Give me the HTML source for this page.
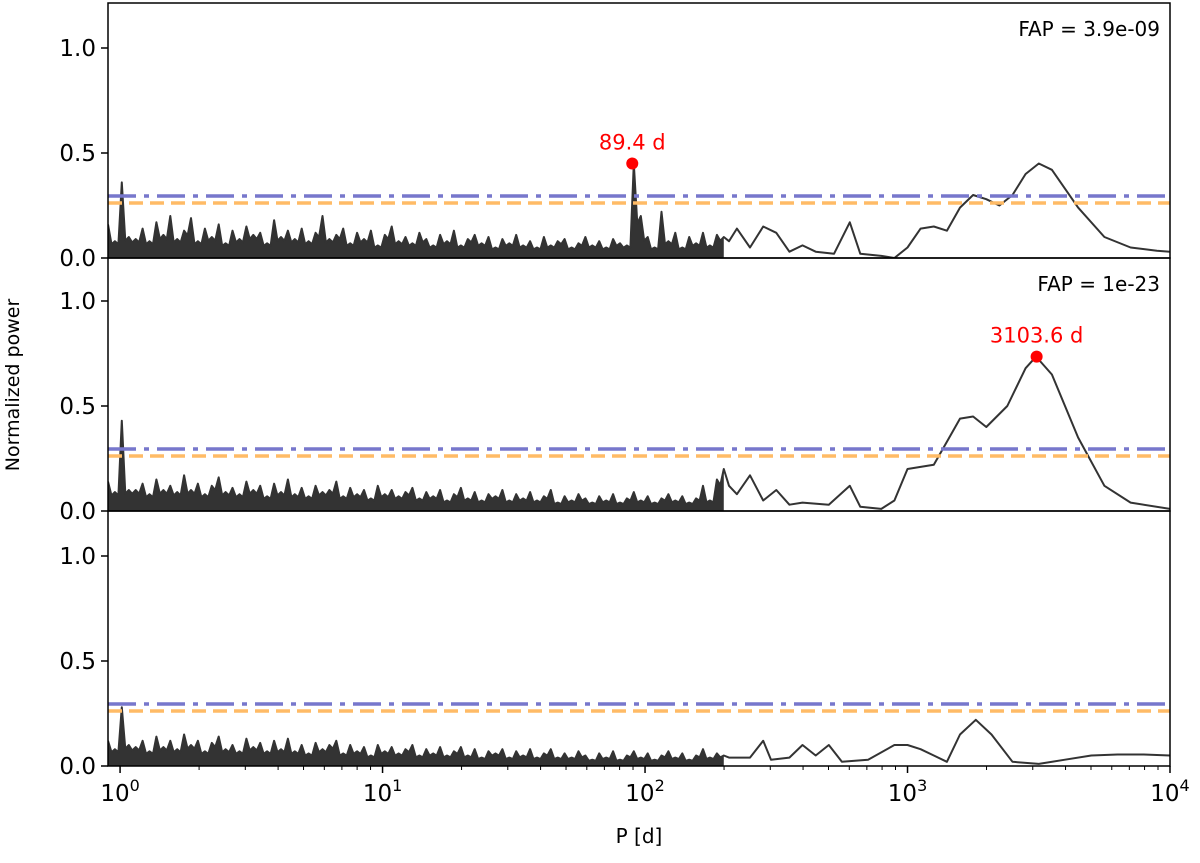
<!DOCTYPE html>
<html><head><meta charset="utf-8"><style>
body{margin:0;background:#fff}
svg text{font-family:"DejaVu Sans","Liberation Sans",sans-serif}
</style></head><body>
<svg id="chart" width="1200" height="858" xmlns="http://www.w3.org/2000/svg">
<g id="plot"></g>
<text x="19" y="385" font-size="19" text-anchor="middle" transform="rotate(-90 19 385)">Normalized power</text>
<text x="639" y="843" font-size="20" text-anchor="middle">P [d]</text>
</svg>
<script>
const xTickExps=[0,1,2,3,4];
const yTicks=[0.0,0.5,1.0];
const faLevels=[0.295,0.262];
const fapLabels=["FAP = 3.9e-09","FAP = 1e-23",""];
const peakPeriods=[89.4,3103.6,null];
const peakPowers=[0.45,0.735,null];
const peakLabels=["89.4 d","3103.6 d",""];
const noise1=[0.16,0.08,0.36,0.1,0.09,0.14,0.08,0.17,0.11,0.2,0.09,0.13,0.19,0.08,0.14,0.1,0.16,0.07,0.13,0.09,0.15,0.11,0.12,0.07,0.18,0.1,0.13,0.09,0.14,0.08,0.12,0.2,0.09,0.11,0.14,0.07,0.12,0.09,0.13,0.06,0.11,0.15,0.08,0.1,0.07,0.12,0.09,0.06,0.11,0.08,0.13,0.06,0.09,0.11,0.07,0.1,0.05,0.09,0.07,0.11,0.06,0.08,0.05,0.1,0.06,0.08,0.09,0.05,0.07,0.1,0.06,0.08,0.05,0.09,0.07,0.06,0.45,0.2,0.1,0.05,0.22,0.08,0.12,0.05,0.1,0.07,0.12,0.06,0.11,0.1];
const noise2=[0.14,0.09,0.43,0.1,0.1,0.13,0.08,0.15,0.1,0.12,0.09,0.17,0.1,0.13,0.08,0.12,0.16,0.09,0.11,0.08,0.14,0.1,0.12,0.07,0.13,0.09,0.15,0.08,0.11,0.07,0.12,0.09,0.1,0.14,0.07,0.11,0.08,0.1,0.06,0.12,0.08,0.1,0.07,0.09,0.11,0.06,0.09,0.07,0.1,0.05,0.08,0.11,0.06,0.09,0.05,0.08,0.07,0.1,0.05,0.08,0.06,0.09,0.05,0.07,0.1,0.04,0.07,0.05,0.08,0.06,0.04,0.07,0.05,0.08,0.04,0.06,0.09,0.05,0.07,0.04,0.06,0.08,0.05,0.07,0.04,0.06,0.12,0.05,0.15,0.2];
const noise3=[0.12,0.08,0.28,0.1,0.09,0.12,0.07,0.14,0.09,0.12,0.08,0.15,0.1,0.12,0.07,0.11,0.14,0.08,0.1,0.07,0.13,0.09,0.11,0.07,0.12,0.08,0.13,0.07,0.1,0.06,0.11,0.08,0.1,0.12,0.06,0.1,0.07,0.09,0.05,0.1,0.07,0.09,0.06,0.08,0.1,0.05,0.08,0.06,0.09,0.05,0.07,0.09,0.05,0.08,0.04,0.07,0.06,0.08,0.04,0.07,0.05,0.08,0.04,0.06,0.08,0.04,0.06,0.04,0.07,0.05,0.03,0.06,0.04,0.07,0.03,0.05,0.07,0.04,0.06,0.03,0.05,0.07,0.04,0.06,0.03,0.05,0.08,0.04,0.06,0.05];
const smoothLogP1=[2.32,2.35,2.4,2.45,2.5,2.55,2.6,2.65,2.72,2.78,2.82,2.9,2.95,3.0,3.05,3.1,3.15,3.2,3.25,3.3,3.35,3.4,3.45,3.5,3.55,3.6,3.65,3.75,3.85,3.95,4.0];
const smoothPow1=[0.08,0.14,0.05,0.15,0.12,0.03,0.06,0.03,0.02,0.17,0.02,0.01,0.0,0.05,0.14,0.15,0.13,0.24,0.3,0.28,0.25,0.3,0.4,0.45,0.42,0.33,0.24,0.1,0.05,0.035,0.03];
const smoothLogP2=[2.32,2.35,2.4,2.45,2.5,2.55,2.6,2.7,2.78,2.82,2.9,2.95,3.0,3.05,3.1,3.15,3.2,3.25,3.3,3.38,3.45,3.49,3.55,3.65,3.75,3.85,4.0];
const smoothPow2=[0.12,0.08,0.17,0.05,0.1,0.03,0.04,0.03,0.12,0.02,0.01,0.05,0.2,0.21,0.22,0.33,0.44,0.45,0.4,0.5,0.68,0.735,0.65,0.35,0.12,0.04,0.01];
const smoothLogP3=[2.32,2.4,2.45,2.48,2.55,2.6,2.65,2.7,2.75,2.85,2.95,3.0,3.05,3.1,3.15,3.2,3.26,3.32,3.4,3.5,3.6,3.7,3.8,3.9,4.0];
const smoothPow3=[0.04,0.04,0.12,0.03,0.04,0.1,0.05,0.1,0.02,0.03,0.1,0.1,0.08,0.05,0.02,0.15,0.22,0.15,0.02,0.01,0.03,0.05,0.055,0.055,0.05];

const noises=[noise1,noise2,noise3];
const smX=[smoothLogP1,smoothLogP2,smoothLogP3];
const smY=[smoothPow1,smoothPow2,smoothPow3];
const L=108,R=1170,lmin=-0.046,lmax=4,NEND=2.3;
const tops=[3,258,511],bots=[258,511,766],S=210;
const NS="http://www.w3.org/2000/svg";
const g=document.getElementById('plot');
function xs(lp){return L+(lp-lmin)/(lmax-lmin)*(R-L);}
function mk(t,a,p){const e=document.createElementNS(NS,t);for(const k in a)e.setAttribute(k,a[k]);(p||g).appendChild(e);return e;}
for(let i=0;i<3;i++){
  const T=tops[i],B=bots[i];
  const ys=v=>B-v*S;
  const pg=mk('g',{});
  
  
  const cp=mk('clipPath',{id:'c'+i},pg);mk('rect',{x:L,y:T,width:R-L,height:B-T},cp);
  const n=noises[i];let noisePts=[];
  const step=(NEND-lmin)/(n.length-1);
  for(let k=0;k<n.length;k++){const lp=lmin+k*step;noisePts.push([xs(lp),ys(n[k])]);
    if(k<n.length-1){noisePts.push([xs(lp+step/2),ys(Math.min(n[k],n[k+1])*0.82)]);}}
  let pts=noisePts.slice();
  for(let k=0;k<smX[i].length;k++)pts.push([xs(smX[i][k]),ys(smY[i][k])]);
  let d='M'+xs(lmin)+','+B+' '+noisePts.map(p=>'L'+p[0].toFixed(1)+','+p[1].toFixed(1)).join(' ')+' L'+xs(NEND)+','+B+'Z';
  const f=mk('path',{d:d,fill:'#333','clip-path':'url(#c'+i+')'},pg);
  
  
  const ln=mk('polyline',{points:pts.map(p=>p[0].toFixed(1)+','+p[1].toFixed(1)).join(' '),fill:'none',stroke:'#333','stroke-width':2,'stroke-linejoin':'round','clip-path':'url(#c'+i+')'},pg);
  
  
  const bl=mk('line',{x1:L,x2:R,y1:ys(faLevels[0]),y2:ys(faLevels[0]),stroke:'#7777cc','stroke-width':3.5,'stroke-dasharray':'28,8,5,8'},pg);
  
  
  const ol=mk('line',{x1:L,x2:R,y1:ys(faLevels[1]),y2:ys(faLevels[1]),stroke:'#ffbb66','stroke-width':3.5,'stroke-dasharray':'14,7'},pg);
  
  
  if(peakPeriods[i]){
    const px=xs(Math.log10(peakPeriods[i])),py=ys(peakPowers[i]);
    const c=mk('circle',{cx:px,cy:py,r:6,fill:'red'},pg);
    
    
    const t=mk('text',{x:px,y:py-14,'font-size':21,fill:'red','text-anchor':'middle'},pg);t.textContent=peakLabels[i];
    
    
  }
  if(fapLabels[i]){const t=mk('text',{x:R-10,y:T+33,'font-size':20,'text-anchor':'end'},pg);t.textContent=fapLabels[i];
    
    }
  mk('rect',{x:L,y:T,width:R-L,height:B-T,fill:'none',stroke:'#000','stroke-width':1.5},pg);
  for(const v of yTicks){const y=ys(v);mk('line',{x1:L-7,x2:L,y1:y,y2:y,stroke:'#000','stroke-width':1.5},pg);
    const t=mk('text',{x:L-12,y:y+8,'font-size':23,'text-anchor':'end'},pg);t.textContent=v.toFixed(1);
    
    }
  for(const e of xTickExps){const x=xs(e);mk('line',{x1:x,x2:x,y1:B,y2:B+(i===2?7:0),stroke:'#000','stroke-width':1.5},pg);
    for(let m=2;m<10&&e<4;m++){const xm=xs(e+Math.log10(m));mk('line',{x1:xm,x2:xm,y1:B,y2:B+(i===2?4:0),stroke:'#000','stroke-width':1},pg);}
    if(i===2){const t=mk('text',{x:x,y:B+35,'font-size':23,'text-anchor':'middle'},pg);t.innerHTML='10<tspan dy="-10" font-size="16">'+e+'</tspan>';
      
      }}
}
</script>
</body></html>
